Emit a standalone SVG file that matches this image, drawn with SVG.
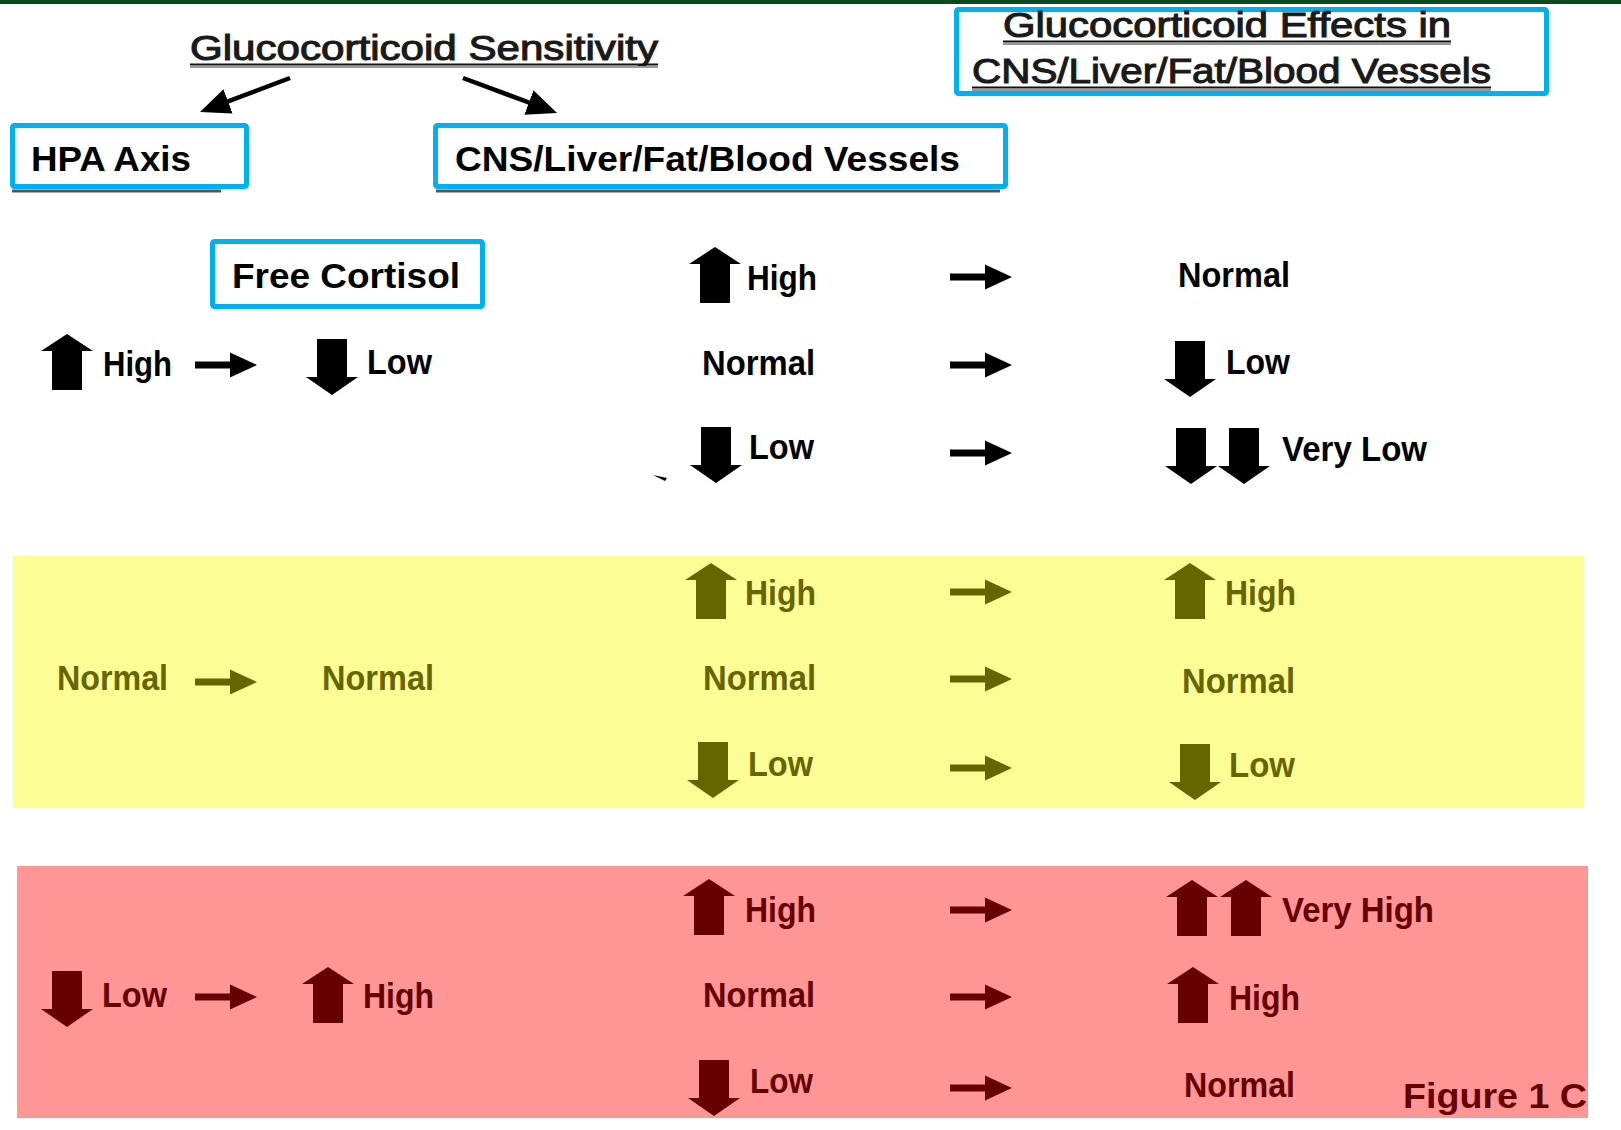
<svg xmlns="http://www.w3.org/2000/svg" width="1621" height="1130" viewBox="0 0 1621 1130">
<style>
.lb{font-family:"Liberation Sans",Arial,sans-serif;font-weight:bold;font-size:35px}
.bx{fill:#fff;stroke:#00b0f0;stroke-width:5}
.hd{font-family:"Liberation Sans",Arial,sans-serif;font-size:35px;fill:#1a1a1a;stroke:#1a1a1a;stroke-width:1.1}
.ul{stroke:#111;stroke-width:2}
.us{stroke:#999;stroke-width:2}
.sh{stroke:#555;stroke-width:3}
.k{fill:#000}
.y{fill:#666600}
.r{fill:#660000}
.conn{stroke:#000;stroke-width:4.5;fill:none}
</style>
<defs>
<path id="up" d="M26,0 L52,17 L41,17 L41,56 L11,56 L11,17 L0,17 Z"/>
<path id="dn" d="M11,0 L41,0 L41,38 L52,38 L26,56 L0,38 L11,38 Z"/>
<path id="ra" d="M0,-3.5 L35,-3.5 L35,-12.5 L62,0 L35,12.5 L35,3.5 L0,3.5 Z"/>
<marker id="ah" markerUnits="userSpaceOnUse" viewBox="0 0 30 26" refX="10" refY="13" markerWidth="30" markerHeight="26" orient="auto">
<path d="M0,0 L30,13 L0,26 Z" fill="#000"/>
</marker>
</defs>
<rect x="0" y="0" width="1621" height="1130" fill="#fff"/>
<rect x="0" y="0" width="1621" height="4" fill="#0b4a1e"/>

<!-- bands -->
<rect id="band-normal" x="13" y="556" width="1571" height="252" fill="#fdfd96"/>
<rect id="band-low" x="17" y="866" width="1571" height="252" fill="#fe9696"/>

<g id="title-sensitivity">
<text class="hd" x="190" y="60" textLength="468" lengthAdjust="spacingAndGlyphs">Glucocorticoid Sensitivity</text>
<line class="us" x1="190" y1="67" x2="658" y2="67"/>
<line class="ul" x1="190" y1="64.5" x2="658" y2="64.5"/>
</g>

<g id="node-hpa">
<line class="sh" x1="12" y1="191" x2="221" y2="191"/>
<rect class="bx" x="12.5" y="125.5" width="234" height="61" rx="2"/>
<text class="lb" x="31" y="171" textLength="160" lengthAdjust="spacingAndGlyphs">HPA Axis</text>
</g>

<g id="node-cns">
<line class="sh" x1="436" y1="191" x2="1000" y2="191"/>
<rect class="bx" x="435.5" y="125.5" width="570" height="61" rx="2"/>
<text class="lb" x="455" y="171" textLength="505" lengthAdjust="spacingAndGlyphs">CNS/Liver/Fat/Blood Vessels</text>
</g>

<g id="node-effects">
<rect class="bx" x="956.5" y="9.5" width="590" height="84" rx="2"/>
<text class="hd" x="1003" y="37" font-size="32" textLength="448" lengthAdjust="spacingAndGlyphs">Glucocorticoid Effects in</text>
<line class="us" x1="1003" y1="44" x2="1451" y2="44"/>
<line class="ul" x1="1003" y1="41.5" x2="1451" y2="41.5"/>
<text class="hd" x="972" y="83" font-size="32" textLength="519" lengthAdjust="spacingAndGlyphs">CNS/Liver/Fat/Blood Vessels</text>
<line class="us" x1="972" y1="90" x2="1491" y2="90"/>
<line class="ul" x1="972" y1="87.5" x2="1491" y2="87.5"/>
</g>

<g id="node-free-cortisol">
<rect class="bx" x="212.5" y="241.5" width="270" height="65" rx="2"/>
<text class="lb" x="232" y="288" font-size="36" textLength="228" lengthAdjust="spacingAndGlyphs">Free Cortisol</text>
</g>

<!-- top (high sensitivity) block -->
<g id="hpa-high" class="k">
<use href="#up" transform="translate(41,334)"/>
<text class="lb" x="103" y="376" textLength="69" lengthAdjust="spacingAndGlyphs">High</text>
</g>
<g id="fc-low" class="k">
<use href="#dn" transform="translate(306,339)"/>
<text class="lb" x="367" y="374" textLength="65" lengthAdjust="spacingAndGlyphs">Low</text>
</g>
<g id="t-mid-high" class="k">
<use href="#up" transform="translate(689,247)"/>
<text class="lb" x="747" y="290" textLength="70" lengthAdjust="spacingAndGlyphs">High</text>
</g>
<g id="t-res-normal" class="k">
<text class="lb" x="1178" y="287" textLength="112" lengthAdjust="spacingAndGlyphs">Normal</text>
</g>
<g id="t-mid-normal" class="k">
<text class="lb" x="702" y="375" textLength="113" lengthAdjust="spacingAndGlyphs">Normal</text>
</g>
<g id="t-res-low" class="k">
<use href="#dn" transform="translate(1164,341)"/>
<text class="lb" x="1226" y="374" textLength="64" lengthAdjust="spacingAndGlyphs">Low</text>
</g>
<g id="t-mid-low" class="k">
<use href="#dn" transform="translate(690,427)"/>
<text class="lb" x="749" y="459" textLength="65" lengthAdjust="spacingAndGlyphs">Low</text>
<polygon points="653,475 667,478 665,481" fill="#000"/>
</g>
<g id="t-res-verylow" class="k">
<use href="#dn" transform="translate(1165,428)"/>
<use href="#dn" transform="translate(1218,428)"/>
<text class="lb" x="1282" y="461" textLength="145" lengthAdjust="spacingAndGlyphs">Very Low</text>
</g>

<!-- yellow (normal) block -->
<g id="y-hpa-normal" class="y">
<text class="lb" x="57" y="690" textLength="111" lengthAdjust="spacingAndGlyphs">Normal</text>
</g>
<g id="y-fc-normal" class="y">
<text class="lb" x="322" y="690" textLength="112" lengthAdjust="spacingAndGlyphs">Normal</text>
</g>
<g id="y-mid-high" class="y">
<use href="#up" transform="translate(685,563)"/>
<text class="lb" x="745" y="605" textLength="71" lengthAdjust="spacingAndGlyphs">High</text>
</g>
<g id="y-res-high" class="y">
<use href="#up" transform="translate(1164,563)"/>
<text class="lb" x="1225" y="605" textLength="71" lengthAdjust="spacingAndGlyphs">High</text>
</g>
<g id="y-mid-normal" class="y">
<text class="lb" x="703" y="690" textLength="113" lengthAdjust="spacingAndGlyphs">Normal</text>
</g>
<g id="y-res-normal" class="y">
<text class="lb" x="1182" y="693" textLength="113" lengthAdjust="spacingAndGlyphs">Normal</text>
</g>
<g id="y-mid-low" class="y">
<use href="#dn" transform="translate(687,742)"/>
<text class="lb" x="748" y="776" textLength="65" lengthAdjust="spacingAndGlyphs">Low</text>
</g>
<g id="y-res-low" class="y">
<use href="#dn" transform="translate(1169,744)"/>
<text class="lb" x="1229" y="777" textLength="66" lengthAdjust="spacingAndGlyphs">Low</text>
</g>

<!-- red (low) block -->
<g id="r-hpa-low" class="r">
<use href="#dn" transform="translate(41,971)"/>
<text class="lb" x="102" y="1007" textLength="65" lengthAdjust="spacingAndGlyphs">Low</text>
</g>
<g id="r-fc-high" class="r">
<use href="#up" transform="translate(302,967)"/>
<text class="lb" x="363" y="1008" textLength="71" lengthAdjust="spacingAndGlyphs">High</text>
</g>
<g id="r-mid-high" class="r">
<use href="#up" transform="translate(683,879)"/>
<text class="lb" x="745" y="922" textLength="71" lengthAdjust="spacingAndGlyphs">High</text>
</g>
<g id="r-res-veryhigh" class="r">
<use href="#up" transform="translate(1166,880)"/>
<use href="#up" transform="translate(1220,880)"/>
<text class="lb" x="1282" y="922" textLength="152" lengthAdjust="spacingAndGlyphs">Very High</text>
</g>
<g id="r-mid-normal" class="r">
<text class="lb" x="703" y="1007" textLength="112" lengthAdjust="spacingAndGlyphs">Normal</text>
</g>
<g id="r-res-high" class="r">
<use href="#up" transform="translate(1167,967)"/>
<text class="lb" x="1229" y="1010" textLength="71" lengthAdjust="spacingAndGlyphs">High</text>
</g>
<g id="r-mid-low" class="r">
<use href="#dn" transform="translate(688,1060)"/>
<text class="lb" x="750" y="1093" textLength="63" lengthAdjust="spacingAndGlyphs">Low</text>
</g>
<g id="r-res-normal" class="r">
<text class="lb" x="1184" y="1097" textLength="111" lengthAdjust="spacingAndGlyphs">Normal</text>
</g>
<g id="figure-label" class="r">
<text class="lb" x="1403" y="1108" font-size="37" textLength="184" lengthAdjust="spacingAndGlyphs">Figure 1 C</text>
</g>

<g id="connectors">
<line class="conn" x1="290" y1="78" x2="218.7" y2="104.9" marker-end="url(#ah)"/>
<line class="conn" x1="463" y1="78" x2="538.3" y2="106" marker-end="url(#ah)"/>
<use href="#ra" class="k" transform="translate(195,365)"/>
<use href="#ra" class="k" transform="translate(950,277)"/>
<use href="#ra" class="k" transform="translate(950,365)"/>
<use href="#ra" class="k" transform="translate(950,453)"/>
<use href="#ra" class="y" transform="translate(195,682)"/>
<use href="#ra" class="y" transform="translate(950,592)"/>
<use href="#ra" class="y" transform="translate(950,679)"/>
<use href="#ra" class="y" transform="translate(950,768)"/>
<use href="#ra" class="r" transform="translate(195,997)"/>
<use href="#ra" class="r" transform="translate(950,910)"/>
<use href="#ra" class="r" transform="translate(950,997)"/>
<use href="#ra" class="r" transform="translate(950,1088)"/>
</g>
</svg>
